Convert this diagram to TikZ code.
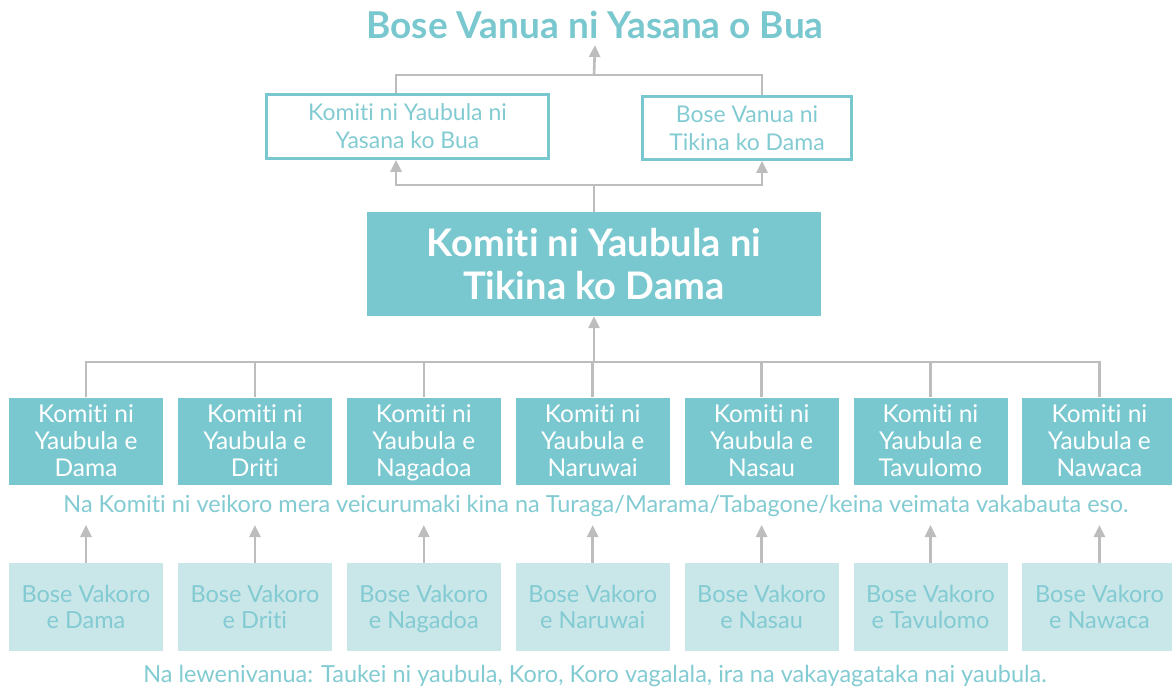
\documentclass[tikz,border=0pt]{standalone}
\usepackage{fontspec}
\setmainfont{Lato}[Ligatures=CommonOff]
\usetikzlibrary{positioning,arrows.meta}
\definecolor{yteal}{HTML}{7AC8CF}
\definecolor{ylight}{HTML}{C9E6E9}
\definecolor{ytext}{HTML}{82CBD2}
\definecolor{ygray}{HTML}{BDBDBD}
\begin{document}
\begin{tikzpicture}[x=1pt, y=-1pt, every node/.style={inner sep=0pt},
    link/.style = {draw=ygray, line width=2.6pt},
    up/.style = {link, -{Triangle[length=12pt,width=11pt]}},
    obox/.style = {draw=yteal, line width=2.6pt, text=ytext, align=center, font=\fontsize{23}{28}\selectfont},
    mainbox/.style = {fill=yteal, text=white, align=center, minimum width=454pt, minimum height=104pt, font=\bfseries\fontsize{38}{43}\selectfont},
    kbox/.style = {fill=yteal, text=white, align=center, minimum width=154pt, minimum height=87pt, text depth=0pt, font=\fontsize{24.5}{27}\selectfont},
    vbox/.style = {fill=ylight, text=ytext, align=center, minimum width=154pt, minimum height=88pt, text depth=0pt, font=\fontsize{23.5}{26}\selectfont},
    note/.style = {text=ytext, font=\fontsize{23.5}{25}\selectfont}]
    \useasboundingbox (0,0) rectangle (1172,693);

    % top levels
    \node[text=yteal, font=\bfseries\fontsize{37}{40}\selectfont, inner ysep=6pt] (title) at (595,25) {Bose Vanua ni Yasana o Bua};
    \node[obox, minimum width=282pt, minimum height=64pt] (yasana) at (407.5,126.5) {Komiti ni Yaubula ni\\Yasana ko Bua};
    \node[obox, minimum width=209pt, minimum height=63pt] (vanua) at (747,128) {Bose Vanua ni\\Tikina ko Dama};
    \node[mainbox] (tikina) at (594,264) {Komiti ni Yaubula ni\\Tikina ko Dama};

    \coordinate (topjoin) at (594,75);
    \coordinate (midjoin) at (594,185);
    \coordinate (lx) at (396,0);
    \coordinate (rx) at (762,0);

    \draw[link] (yasana.north -| lx) |- (topjoin) -| (vanua.north -| rx);
    \draw[up] (topjoin) -- (title.south);
    \draw[link] (tikina.north) -- (midjoin);
    \draw[up] (midjoin) -| (yasana.south -| lx);
    \draw[up] (midjoin) -| (vanua.south -| rx);

    % village committees
    \node[kbox] (k1) at (86,441) {Komiti ni\\Yaubula e\\Dama};
    \node[kbox, right=14.5pt of k1] (k2) {Komiti ni\\Yaubula e\\Driti};
    \node[kbox, right=14.5pt of k2] (k3) {Komiti ni\\Yaubula e\\Nagadoa};
    \node[kbox, right=14.5pt of k3] (k4) {Komiti ni\\Yaubula e\\Naruwai};
    \node[kbox, right=14.5pt of k4] (k5) {Komiti ni\\Yaubula e\\Nasau};
    \node[kbox, right=14.5pt of k5] (k6) {Komiti ni\\Yaubula e\\Tavulomo};
    \node[kbox, right=14.5pt of k6] (k7) {Komiti ni\\Yaubula e\\Nawaca};

    \coordinate (lowjoin) at (594,362);
    \draw[link] (k1.north) |- (lowjoin) -| (k7.north);
    \draw[link] (k2.north) -- (k2.north |- lowjoin);
    \draw[link] (k3.north) -- (k3.north |- lowjoin);
    \draw[link] (k4.north) -- (k4.north |- lowjoin);
    \draw[link] (k5.north) -- (k5.north |- lowjoin);
    \draw[link] (k6.north) -- (k6.north |- lowjoin);
    \draw[up] (lowjoin) -- (tikina.south);

    \node[note] (note1) at (596,506) {Na Komiti ni veikoro mera veicurumaki kina na Turaga/Marama/Tabagone/keina veimata vakabauta eso.};

    % village meetings
    \node[vbox, below=78pt of k1] (v1) {Bose Vakoro\\e Dama};
    \node[vbox, below=78pt of k2] (v2) {Bose Vakoro\\e Driti};
    \node[vbox, below=78pt of k3] (v3) {Bose Vakoro\\e Nagadoa};
    \node[vbox, below=78pt of k4] (v4) {Bose Vakoro\\e Naruwai};
    \node[vbox, below=78pt of k5] (v5) {Bose Vakoro\\e Nasau};
    \node[vbox, below=78pt of k6] (v6) {Bose Vakoro\\e Tavulomo};
    \node[vbox, below=78pt of k7] (v7) {Bose Vakoro\\e Nawaca};

    \coordinate (tips) at (594,525);
    \draw[up] (v1.north) -- (v1.north |- tips);
    \draw[up] (v2.north) -- (v2.north |- tips);
    \draw[up] (v3.north) -- (v3.north |- tips);
    \draw[up] (v4.north) -- (v4.north |- tips);
    \draw[up] (v5.north) -- (v5.north |- tips);
    \draw[up] (v6.north) -- (v6.north |- tips);
    \draw[up] (v7.north) -- (v7.north |- tips);

    \node[note] (note2) at (595,676) {Na lewenivanua: Taukei ni yaubula, Koro, Koro vagalala, ira na vakayagataka nai yaubula.};
\end{tikzpicture}
\end{document}
